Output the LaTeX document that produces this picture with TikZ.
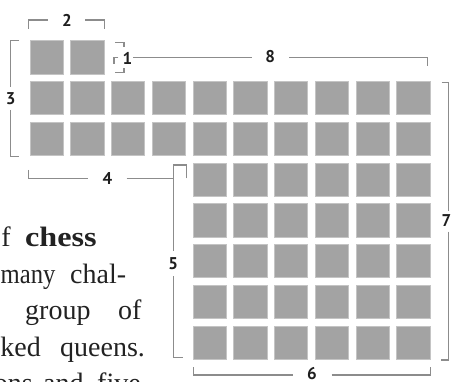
\documentclass[tikz,border=0pt]{standalone}
\usepackage{fontspec}
\setmainfont{Liberation Serif}
\newfontfamily\labelfont{PT Sans}
\definecolor{sqfill}{HTML}{A3A3A3}
\definecolor{sqedge}{HTML}{C4C4C4}
\definecolor{brkgray}{HTML}{8C8C8C}
\definecolor{labelblack}{HTML}{1E1E1E}
\definecolor{textblack}{HTML}{222222}
\begin{document}
\begin{tikzpicture}[x=1pt,y=-1pt,
  sq/.style={fill=sqfill,draw=sqedge,line width=0.8pt},
  brk/.style={draw=brkgray,line width=1.1pt},
  dimlabel/.style={font=\labelfont\bfseries\fontsize{17}{17}\selectfont,text=labelblack,inner sep=0pt},
  word/.style={font=\fontsize{28}{34}\selectfont,text=textblack,inner sep=0pt,anchor=base west}]
\useasboundingbox (0,0) rectangle (452,382);
% squares
\foreach \c in {0,1} {\draw[sq] (30+\c*40.75,40.7) rectangle +(33.3,33.3);}
\foreach \r in {1,2} {\foreach \c in {0,...,9} {\draw[sq] (30+\c*40.75,40.7+\r*40.76) rectangle +(33.3,33.3);}}
\foreach \r in {3,...,7} {\foreach \c in {4,...,9} {\draw[sq] (30+\c*40.75,40.7+\r*40.76) rectangle +(33.3,33.3);}}
% labels
\node[dimlabel] (l2) at (67,20) {2};
\node[dimlabel] (l3) at (10.6,98.3) {3};
\node[dimlabel] (l4) at (107.5,178.8) {4};
\node[dimlabel] (l5) at (173.3,263.3) {5};
\node[dimlabel] (l6) at (312,373.5) {6};
\node[dimlabel] (l7) at (446.5,221) {7};
\node[dimlabel] (l8) at (270.3,56.5) {8};
\node[dimlabel] (l1) at (127.5,58.8) {1};
% brackets
\draw[brk] (28.7,29)--(28.7,20)--(48,20);
\draw[brk] (85,20)--(104.3,20)--(104.3,29);
\draw[brk] (19,40.7)--(10.7,40.7)--(10.7,87);
\draw[brk] (10.7,110)--(10.7,156.7)--(19,156.7);
\draw[brk] (28.7,170)--(28.7,178.3)--(88,178.3);
\draw[brk] (126.7,178.3)--(173.3,178.3);
\draw[brk] (186.7,178.3)--(186.7,165)--(173.3,165)--(173.3,251);
\draw[brk] (173.3,276)--(173.3,357.3)--(182.7,357.3);
\draw[brk] (193.3,367)--(193.3,375)--(293,375);
\draw[brk] (331.7,375)--(430.7,375)--(430.7,367);
\draw[brk] (441.7,82.3)--(448.5,82.3)--(448.5,211);
\draw[brk] (448.5,231.7)--(448.5,360)--(440.7,360);
\draw[brk] (115,42.7)--(124,42.7)--(124,47);
\draw[brk] (124,68.5)--(124,72.7)--(115,72.7);
\draw[brk] (118.3,57.3)--(114,57.3)--(114,64.5);
\draw[brk] (133.3,57.3)--(251.7,57.3);
\draw[brk] (289.3,57.3)--(427.3,57.3)--(427.3,66);
% text
\node[word,anchor=base east] (w1) at (11,246) {f};
\node[word] (w2) at (25,246) {\scalebox{1.15}[1]{\textbf{chess}}};
\node[word] (w3) at (0.5,283) {\scalebox{0.88}[1]{many}};
\node[word] (w4) at (70,283) {chal-};
\node[word] (w5) at (25,319) {group};
\node[word] (w6) at (118,319) {of};
\node[word,anchor=base east] (w7) at (41,356) {ked};
\node[word] (w8) at (60,356) {queens.};
\node[word,anchor=base east] (w9) at (33,392) {ons};
\node[word] (w10) at (43,392) {and};
\node[word] (w11) at (97,392) {five};
\end{tikzpicture}
\end{document}
